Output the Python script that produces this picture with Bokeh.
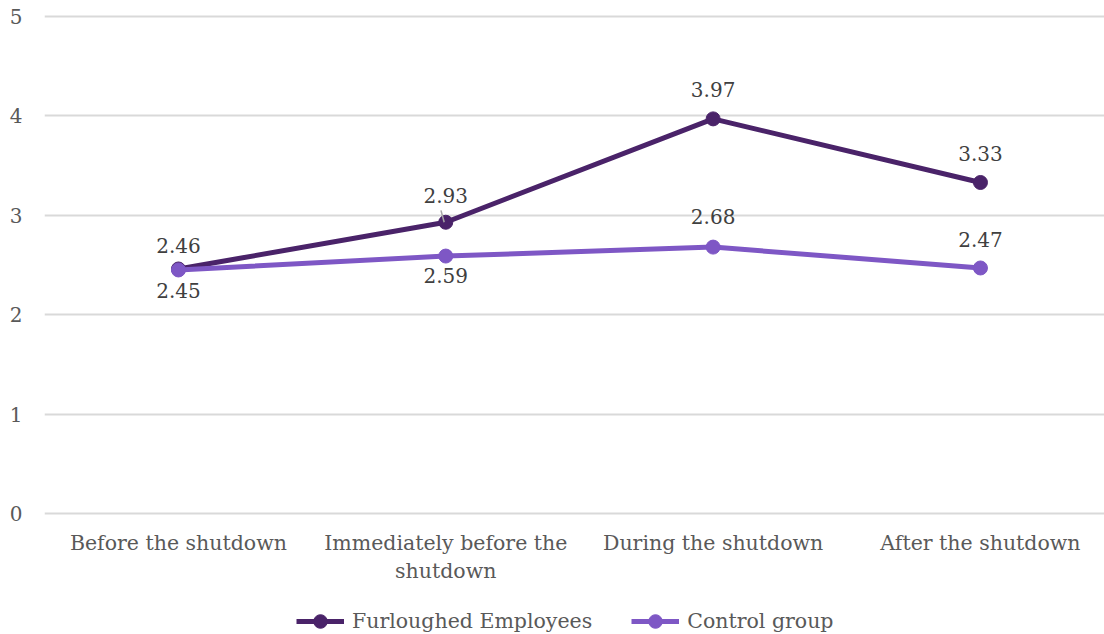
from bokeh.plotting import figure
from bokeh.layouts import column
from bokeh.models import Range1d, FixedTicker, Legend, LegendItem, ColumnDataSource
from bokeh.embed import file_html
from bokeh.resources import INLINE
from bokeh.core.properties import value

# Phases of the observation period
categories = [
    "Before the shutdown",
    "Immediately before the\nshutdown",
    "During the shutdown",
    "After the shutdown",
]
furloughed = [2.46, 2.93, 3.97, 3.33]
control = [2.45, 2.59, 2.68, 2.47]
y_ticks = [0, 1, 2, 3, 4, 5]
series_names = ["Furloughed Employees", "Control group"]

# vertical nudge of each value label, in screen pixels (negative = above the point)
furloughed_label_nudge = [-23, -27, -29, -29]
control_label_nudge = [21, 19, -31, -28]

DARK = "#4a2369"
LIGHT = "#7e57c5"
FONT = "DejaVu Serif"
AXIS_GREY = "#595959"

xs = list(range(len(categories)))

p = figure(
    width=1104, height=586,
    x_range=Range1d(-0.501, 3.464), y_range=Range1d(-0.02, 5.02),
    output_backend="svg", toolbar_location=None,
    min_border_left=44, min_border_right=0, min_border_top=14, min_border_bottom=71,
)
p.outline_line_color = None

# axes
p.xaxis.ticker = FixedTicker(ticks=xs)
p.xaxis.major_label_overrides = {i: c for i, c in enumerate(categories)}
p.yaxis.ticker = FixedTicker(ticks=y_ticks)
for ax in (p.xaxis, p.yaxis):
    ax.axis_line_color = None
    ax.major_tick_line_color = None
    ax.minor_tick_line_color = None
    ax.major_tick_out = 0
    ax.major_tick_in = 0
    ax.major_label_text_font = FONT
    ax.major_label_text_color = AXIS_GREY
p.xaxis.major_label_text_font_size = "20.5px"
p.yaxis.major_label_text_font_size = "20px"
p.yaxis.major_label_standoff = 22
p.xaxis.major_label_standoff = 15

p.xgrid.grid_line_color = None
p.ygrid.ticker = FixedTicker(ticks=y_ticks)
p.ygrid.grid_line_color = "#d9d9d9"
p.ygrid.grid_line_width = 2

# series
p.line(xs, furloughed, line_color=DARK, line_width=5)
p.scatter(xs, furloughed, size=14, fill_color=DARK, line_color=DARK)
p.line(xs, control, line_color=LIGHT, line_width=5)
p.scatter(xs, control, size=14, fill_color=LIGHT, line_color=LIGHT)

# leader line for the 2.93 label
p.segment(x0=[xs[1] - 0.018], y0=[furloughed[1] + 0.12], x1=[xs[1] - 0.006], y1=[furloughed[1]],
          line_color="#a6a6a6", line_width=1.5)


def add_labels(vals, nudges):
    src = ColumnDataSource(dict(
        x=xs, y=vals,
        t=[f"{v:.2f}" for v in vals],
        off=nudges,
    ))
    p.text(x="x", y="y", text="t", source=src, y_offset="off",
           text_align="center", text_baseline="middle",
           text_font=value(FONT), text_font_size="20px", text_color="#404040")


add_labels(furloughed, furloughed_label_nudge)
add_labels(control, control_label_nudge)

# legend strip under the chart; its renderers hold the series but sit outside the view
key = figure(
    width=1104, height=48, x_range=Range1d(100, 101), y_range=Range1d(100, 101),
    x_axis_type=None, y_axis_type=None,
    output_backend="svg", toolbar_location=None,
    min_border_left=0, min_border_right=0, min_border_top=0, min_border_bottom=0,
)
key.outline_line_color = None
key.xgrid.grid_line_color = None
key.ygrid.grid_line_color = None

items = []
for name, vals, color in zip(series_names, [furloughed, control], [DARK, LIGHT]):
    rl = key.line(xs, vals, line_color=color, line_width=5)
    rs = key.scatter(xs, vals, size=14, fill_color=color, line_color=color)
    items.append(LegendItem(label=name, renderers=[rl, rs]))

legend = Legend(
    items=items, orientation="horizontal", location=(252, -4),
    glyph_width=48, glyph_height=34, label_height=34, label_standoff=8, spacing=39,
    padding=0, margin=0, border_line_color=None, background_fill_alpha=0,
    label_text_font=FONT, label_text_font_size="20.5px", label_text_color=AXIS_GREY,
)
key.add_layout(legend, "center")

layout = column(p, key, spacing=0)
open("out.html", "w").write(file_html(layout, INLINE))
